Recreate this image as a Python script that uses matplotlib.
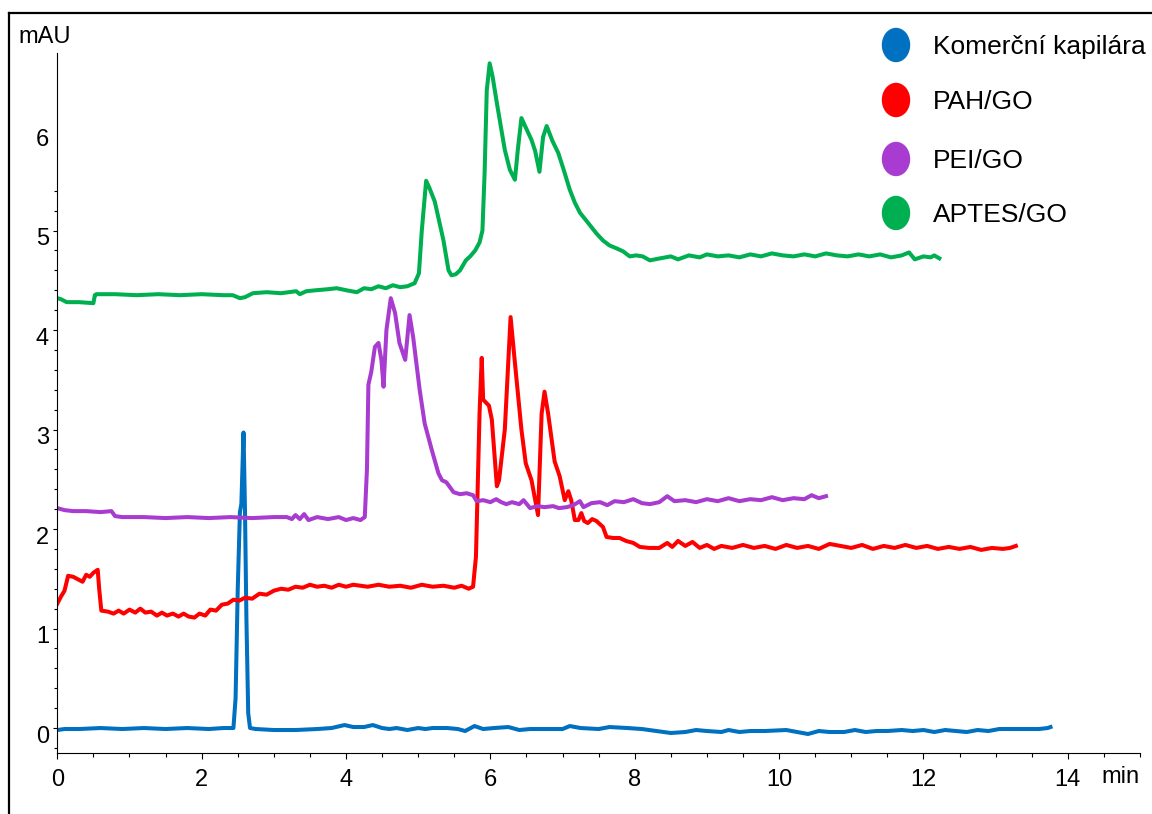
import numpy as np
import matplotlib
matplotlib.use('Agg')
import matplotlib.pyplot as plt
from matplotlib.patches import Ellipse
from matplotlib.lines import Line2D
from matplotlib.ticker import FixedLocator, MultipleLocator
from matplotlib.transforms import ScaledTranslation

plt.rcParams['font.family'] = ['Liberation Sans', 'DejaVu Sans']

# elektroferogramy, cas [min] / signal [mAU]
t_kom = [0.0, 0.1, 0.3, 0.6, 0.9, 1.2, 1.5, 1.8, 2.1, 2.3,
         2.44, 2.47, 2.50, 2.53, 2.55, 2.58, 2.60, 2.62, 2.645, 2.67,
         2.75, 3.0, 3.3, 3.6, 3.8, 3.98, 4.1, 4.25, 4.37, 4.5,
         4.6, 4.7, 4.85, 5.0, 5.1, 5.2, 5.4, 5.55, 5.65, 5.78,
         5.9, 6.05, 6.25, 6.4, 6.55, 6.8, 7.0, 7.1, 7.25, 7.5,
         7.65, 7.9, 8.1, 8.3, 8.5, 8.7, 8.85, 9.0, 9.2, 9.3,
         9.45, 9.6, 9.8, 10.1, 10.25, 10.4, 10.55, 10.7, 10.9, 11.05,
         11.2, 11.35, 11.5, 11.7, 11.85, 12.0, 12.15, 12.3, 12.45, 12.6,
         12.75, 12.9, 13.05, 13.3, 13.6, 13.72, 13.76]
y_kom = [-0.02, -0.01, -0.01, 0.0, -0.01, 0.0, -0.01, 0.0, -0.01, 0.0,
         0.0, 0.3, 1.4, 2.17, 2.25, 2.97, 2.2, 1.1, 0.15, 0.0,
         -0.01, -0.02, -0.02, -0.01, 0.0, 0.03, 0.01, 0.01, 0.03, 0.0,
         -0.01, 0.0, -0.02, 0.0, -0.01, 0.0, 0.0, -0.01, -0.03, 0.02,
         -0.01, 0.0, 0.01, -0.02, -0.01, -0.01, -0.01, 0.02, 0.0, -0.01,
         0.01, 0.0, -0.01, -0.03, -0.05, -0.04, -0.02, -0.03, -0.04, -0.02,
         -0.04, -0.03, -0.03, -0.02, -0.04, -0.06, -0.03, -0.04, -0.04, -0.02,
         -0.04, -0.03, -0.03, -0.02, -0.03, -0.02, -0.04, -0.02, -0.03, -0.04,
         -0.02, -0.03, -0.01, -0.01, -0.01, 0.0, 0.01]

t_pah = [0.0, 0.05, 0.1, 0.15, 0.22, 0.3, 0.35, 0.4, 0.45, 0.5,
         0.56, 0.58, 0.61, 0.7, 0.78, 0.85, 0.92, 1.0, 1.08, 1.15,
         1.22, 1.3, 1.38, 1.45, 1.52, 1.6, 1.68, 1.75, 1.82, 1.9,
         1.97, 2.05, 2.12, 2.2, 2.28, 2.36, 2.44, 2.52, 2.6, 2.7,
         2.8, 2.9, 3.0, 3.1, 3.2, 3.3, 3.4, 3.5, 3.6, 3.7,
         3.8, 3.9, 4.0, 4.1, 4.2, 4.3, 4.45, 4.6, 4.75, 4.9,
         5.05, 5.2, 5.35, 5.5, 5.6, 5.7, 5.76, 5.8, 5.85, 5.88,
         5.9, 5.98, 6.02, 6.09, 6.12, 6.2, 6.28, 6.34, 6.43, 6.49,
         6.57, 6.66, 6.71, 6.75, 6.8, 6.89, 6.96, 7.03, 7.08, 7.12,
         7.17, 7.22, 7.26, 7.3, 7.35, 7.41, 7.47, 7.56, 7.61, 7.7,
         7.79, 7.88, 7.98, 8.07, 8.2, 8.34, 8.45, 8.52, 8.6, 8.7,
         8.8, 8.9, 9.0, 9.1, 9.2, 9.35, 9.5, 9.65, 9.8, 9.95,
         10.1, 10.25, 10.4, 10.55, 10.7, 10.85, 11.0, 11.15, 11.3, 11.45,
         11.6, 11.75, 11.9, 12.05, 12.2, 12.35, 12.5, 12.65, 12.8, 12.95,
         13.1, 13.2, 13.28]
y_pah = [1.25, 1.32, 1.38, 1.53, 1.52, 1.49, 1.47, 1.54, 1.52, 1.56,
         1.59, 1.40, 1.18, 1.17, 1.15, 1.18, 1.15, 1.19, 1.16, 1.20,
         1.16, 1.17, 1.13, 1.16, 1.13, 1.15, 1.12, 1.15, 1.12, 1.11,
         1.15, 1.13, 1.19, 1.18, 1.24, 1.25, 1.29, 1.28, 1.31, 1.30,
         1.35, 1.34, 1.38, 1.40, 1.39, 1.42, 1.41, 1.44, 1.42, 1.43,
         1.41, 1.44, 1.42, 1.44, 1.43, 1.42, 1.44, 1.42, 1.43, 1.41,
         1.44, 1.42, 1.43, 1.41, 1.43, 1.40, 1.42, 1.72, 3.16, 3.72,
         3.30, 3.24, 3.10, 2.43, 2.49, 3.00, 4.13, 3.67, 3.00, 2.66,
         2.49, 2.14, 3.16, 3.38, 3.16, 2.68, 2.53, 2.29, 2.38, 2.29,
         2.09, 2.09, 2.16, 2.08, 2.06, 2.10, 2.08, 2.02, 1.92, 1.91,
         1.91, 1.88, 1.86, 1.82, 1.81, 1.81, 1.86, 1.82, 1.88, 1.83,
         1.87, 1.81, 1.84, 1.80, 1.83, 1.81, 1.84, 1.81, 1.83, 1.80,
         1.84, 1.81, 1.83, 1.80, 1.85, 1.83, 1.81, 1.84, 1.80, 1.83,
         1.81, 1.84, 1.81, 1.83, 1.80, 1.82, 1.80, 1.82, 1.79, 1.81,
         1.80, 1.81, 1.83]

t_pei = [0.0, 0.1, 0.22, 0.4, 0.6, 0.75, 0.8, 0.9, 1.2, 1.5,
         1.8, 2.1, 2.4, 2.7, 3.0, 3.18, 3.25, 3.3, 3.36, 3.42,
         3.48, 3.6, 3.75, 3.9, 4.0, 4.1, 4.2, 4.26, 4.29, 4.31,
         4.35, 4.40, 4.45, 4.49, 4.52, 4.56, 4.62, 4.68, 4.74, 4.82,
         4.88, 4.93, 5.02, 5.09, 5.19, 5.28, 5.33, 5.39, 5.49, 5.58,
         5.67, 5.76, 5.81, 5.9, 6.0, 6.08, 6.15, 6.22, 6.3, 6.4,
         6.46, 6.55, 6.65, 6.75, 6.87, 6.95, 7.06, 7.15, 7.24, 7.29,
         7.4, 7.52, 7.62, 7.72, 7.85, 7.98, 8.1, 8.21, 8.34, 8.45,
         8.55, 8.7, 8.85, 9.0, 9.15, 9.3, 9.45, 9.6, 9.75, 9.9,
         10.05, 10.2, 10.35, 10.45, 10.55, 10.65]
y_pei = [2.21, 2.19, 2.18, 2.18, 2.17, 2.18, 2.13, 2.12, 2.12, 2.11,
         2.12, 2.11, 2.12, 2.11, 2.12, 2.12, 2.10, 2.14, 2.10, 2.15,
         2.09, 2.12, 2.10, 2.12, 2.09, 2.11, 2.09, 2.12, 2.60, 3.45,
         3.58, 3.83, 3.87, 3.70, 3.43, 4.00, 4.32, 4.17, 3.87, 3.70,
         4.15, 3.93, 3.40, 3.06, 2.79, 2.56, 2.49, 2.47, 2.37, 2.35,
         2.36, 2.34, 2.28, 2.29, 2.27, 2.30, 2.27, 2.25, 2.27, 2.25,
         2.29, 2.21, 2.23, 2.22, 2.23, 2.21, 2.22, 2.24, 2.28, 2.22,
         2.26, 2.27, 2.24, 2.28, 2.27, 2.30, 2.26, 2.25, 2.27, 2.33,
         2.28, 2.29, 2.27, 2.30, 2.28, 2.31, 2.28, 2.30, 2.29, 2.32,
         2.29, 2.31, 2.30, 2.34, 2.31, 2.33]

t_aptes = [0.0, 0.05, 0.13, 0.3, 0.5, 0.52, 0.54, 0.8, 1.1, 1.4,
           1.7, 2.0, 2.3, 2.43, 2.53, 2.6, 2.71, 2.9, 3.1, 3.31,
           3.36, 3.45, 3.59, 3.75, 3.87, 4.0, 4.15, 4.25, 4.35, 4.45,
           4.55, 4.65, 4.75, 4.85, 4.95, 5.01, 5.05, 5.11, 5.16, 5.23,
           5.35, 5.42, 5.46, 5.52, 5.58, 5.66, 5.72, 5.79, 5.85, 5.89,
           5.92, 5.95, 5.99, 6.03, 6.09, 6.20, 6.27, 6.34, 6.38, 6.43,
           6.5, 6.57, 6.62, 6.68, 6.73, 6.78, 6.86, 6.94, 7.02, 7.10,
           7.17, 7.24, 7.35, 7.47, 7.56, 7.65, 7.75, 7.84, 7.93, 8.02,
           8.11, 8.21, 8.35, 8.5, 8.6, 8.75, 8.9, 9.0, 9.15, 9.3,
           9.45, 9.6, 9.75, 9.9, 10.05, 10.2, 10.35, 10.5, 10.65, 10.8,
           10.95, 11.1, 11.25, 11.4, 11.55, 11.7, 11.8, 11.88, 12.0, 12.1,
           12.15, 12.22]
y_aptes = [4.32, 4.31, 4.28, 4.28, 4.27, 4.35, 4.36, 4.36, 4.35, 4.36,
           4.35, 4.36, 4.35, 4.35, 4.32, 4.33, 4.37, 4.38, 4.37, 4.39,
           4.36, 4.39, 4.40, 4.41, 4.42, 4.40, 4.38, 4.42, 4.41, 4.44,
           4.42, 4.45, 4.43, 4.44, 4.47, 4.57, 5.00, 5.50, 5.42, 5.29,
           4.90, 4.60, 4.55, 4.56, 4.60, 4.70, 4.74, 4.80, 4.88, 5.00,
           5.58, 6.41, 6.68, 6.55, 6.28, 5.81, 5.61, 5.51, 5.81, 6.13,
           6.02, 5.91, 5.80, 5.59, 5.94, 6.05, 5.90, 5.78, 5.60, 5.41,
           5.28, 5.18, 5.08, 4.97, 4.90, 4.85, 4.82, 4.79, 4.74, 4.75,
           4.74, 4.70, 4.72, 4.74, 4.71, 4.75, 4.73, 4.76, 4.74, 4.75,
           4.73, 4.76, 4.74, 4.77, 4.75, 4.74, 4.76, 4.74, 4.77, 4.75,
           4.74, 4.76, 4.74, 4.76, 4.73, 4.75, 4.78, 4.71, 4.74, 4.73,
           4.75, 4.72]

labels = ['Komerční kapilára', 'PAH/GO', 'PEI/GO', 'APTES/GO']
colors = ['#0070C0', '#FF0000', '#A83CD0', '#00B050']
traces = [(t_kom, y_kom), (t_pah, y_pah), (t_pei, y_pei), (t_aptes, y_aptes)]

W, H = 1152, 814
fig = plt.figure(figsize=(W / 100, H / 100), dpi=100)
ax = fig.add_axes([57.3 / W, 60.7 / H, (1140 - 57.3) / W, 700.3 / H])

for (t, y), c in zip(traces, colors):
    ax.plot(t, y, color=c, lw=2.9, solid_joinstyle='round')

ax.set_xlim(0, 15)
ax.set_ylim(-0.254, 6.784)
for s in ['top', 'right']:
    ax.spines[s].set_visible(False)
for s in ['left', 'bottom']:
    ax.spines[s].set_linewidth(0.8)

ax.xaxis.set_major_locator(FixedLocator([0, 2, 4, 6, 8, 10, 12, 14]))
ax.xaxis.set_minor_locator(MultipleLocator(0.5))
ax.yaxis.set_major_locator(FixedLocator([0, 1, 2, 3, 4, 5, 6]))
ax.yaxis.set_minor_locator(FixedLocator(
    [v / 5 for v in range(-1, 28) if v % 5 != 0]))
ax.tick_params(axis='x', which='major', length=4.5, width=0.8, pad=7, labelsize=17)
ax.tick_params(axis='x', which='minor', length=3, width=0.8)
ax.tick_params(axis='y', which='major', length=3, width=0.8, pad=3, labelsize=17)
ax.tick_params(axis='y', which='minor', length=2, width=0.8)
ax.yaxis.get_major_ticks()[-1].tick1line.set_visible(False)

# popisky osy y sedi o kousek niz nez ticky
shift = ScaledTranslation(0, -6 / 100, fig.dpi_scale_trans)
for lab in ax.get_yticklabels():
    lab.set_transform(lab.get_transform() + shift)

fig.text(18 / W, 1 - 37 / H, 'mAU', fontsize=17, va='center', ha='left')
fig.text(1140 / W, 1 - 777 / H, 'min', fontsize=17, va='center', ha='right')

# legenda
leg_y = [45, 100, 159, 213]
for yy, lab, c in zip(leg_y, labels, colors):
    fig.add_artist(Ellipse((896 / 100, (H - yy) / 100), 27 / 100, 33 / 100,
                           transform=fig.dpi_scale_trans, color=c))
    fig.text(933 / W, 1 - (yy + 9) / H, lab, fontsize=19, va='baseline', ha='left')

# ramecek
bx, by = 8.5 / W, 1 - 12.7 / H
fig.add_artist(Line2D([bx, bx], [0, by], color='black', lw=1.6,
                      transform=fig.transFigure))
fig.add_artist(Line2D([bx, 1], [by, by], color='black', lw=1.6,
                      transform=fig.transFigure))

fig.savefig('out.png', dpi=100)
